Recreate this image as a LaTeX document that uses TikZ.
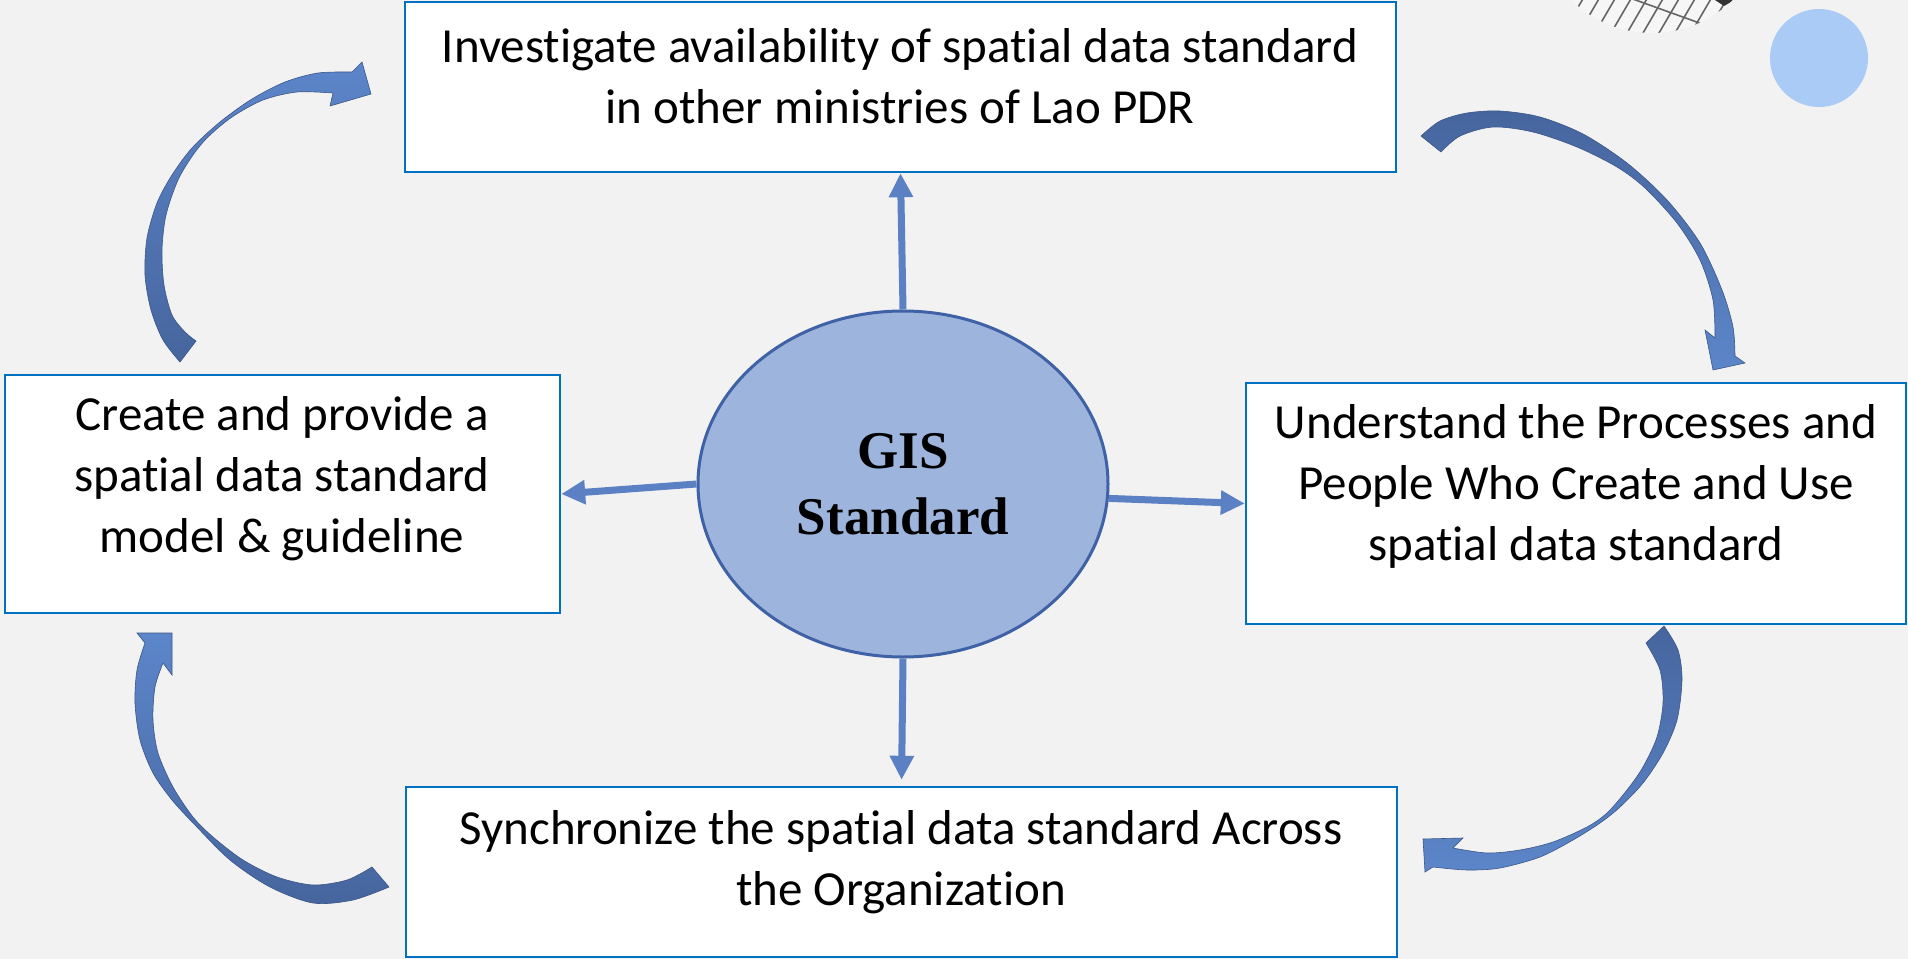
\documentclass[tikz,border=0pt]{standalone}
\usepackage{fontspec}
\setmainfont{Carlito}[Ligatures=NoCommon]
\newfontfamily\gisfont{Liberation Serif}
\usetikzlibrary{arrows.meta,shapes.geometric}
\definecolor{bg}{HTML}{F2F2F2}
\definecolor{boxline}{HTML}{0070C0}
\definecolor{connc}{HTML}{5B80C4}
\definecolor{ellfill}{HTML}{9DB4DD}
\definecolor{elldraw}{HTML}{3F62A6}
\definecolor{arrdark}{HTML}{46659E}
\definecolor{arrlight}{HTML}{5C86CA}
\definecolor{dotblue}{HTML}{ABCBF7}
\begin{document}
\begin{tikzpicture}[x=0.5pt,y=-0.5pt,
  box/.style={draw=boxline,line width=1.2pt,fill=white,rectangle,inner sep=0pt},
  txt/.style={align=center,font=\fontsize{24.5pt}{30.5pt}\selectfont,inner sep=0pt},
  link/.style={draw=connc,line width=3.5pt,-{Triangle[length=12pt,width=11.5pt]}},
  arcband/.style={draw=arrdark!85!black,line width=0.3pt},
  upshade/.style={top color=arrlight,bottom color=arrdark},
  downshade/.style={top color=arrdark,bottom color=arrlight},
]
\useasboundingbox (0,0) rectangle (1908,959);
\fill[bg] (0,0) rectangle (1908,959);

% decorations top right
\begin{scope}
\clip (1652,-82) circle[radius=57.5pt];
\fill[white!93!gray] (1520,-200) rectangle (1780,40);
\foreach \i in {0,...,12} \draw[black!60,line width=0.8pt] ({1556+16*\i},45) -- ({1584+16*\i},-3);
\draw[black!60,line width=0.8pt] (1630,-2) -- (1705,25);
\fill[black!80] (1712,-2) -- (1738,-2) -- (1724,6) -- cycle;
\end{scope}
\fill[dotblue] (1819,58) circle[radius=24.5pt];

% boxes
\node[box,minimum width=495.5pt,minimum height=85pt] (top) at (900.5,87) {};
\node[box,minimum width=277.5pt,minimum height=119pt] (left) at (282.5,494) {};
\node[box,minimum width=330pt,minimum height=120.5pt] (right) at (1576,503.5) {};
\node[box,minimum width=495.5pt,minimum height=85pt] (bottom) at (901.5,872) {};

\node[txt] (toptxt) at (900,76) {Investigate availability of spatial data standard\\in other ministries of Lao PDR};
\node[txt] (lefttxt) at (282,479) {Create and provide a\\spatial data standard\\model \& guideline};
\node[txt] (righttxt) at (1576,486) {Understand the Processes and\\People Who Create and Use\\spatial data standard};
\node[txt] (bottomtxt) at (901,862) {Synchronize the spatial data standard Across\\the Organization};

% centre
\node[ellipse,draw=elldraw,line width=1.5pt,fill=ellfill,minimum width=205pt,minimum height=173pt,inner sep=0pt,
  align=center,font=\gisfont\bfseries\fontsize{26.5pt}{33pt}\selectfont] (gis) at (903,484) {GIS\\Standard};

% connectors
\draw[link] (gis.north) -- (top.south);
\draw[link] (gis.west) -- (left.east);
\draw[link] (gis.-4) -- (right.west);
\draw[link,shorten >=3pt] (gis.south) -- (bottom.north);

% curved arrows
% top-left
\path[arcband,upshade] plot[smooth] coordinates {(180,362) (163,340) (151,310) (145,275) (147,238) (157,203) (172,175) (192,148) (220,122) (252,99) (285,82) (318,73) (352,72)}
  -- (362,62) -- (371,94) -- (330,106)
  -- plot[smooth] coordinates {(333,93) (297,92) (263,100) (232,117) (208,137) (193,155) (178,180) (166,215) (162,250) (164,285) (172,315) (185,332) (196,341)} -- cycle;
% top-right
\path[arcband,downshade] plot[smooth] coordinates {(1421,136) (1440,121) (1467,113) (1500,111) (1540,117) (1583,134) (1627,163) (1667,200) (1700,243) (1722,290) (1733,327) (1735,356)}
  -- (1745,363) -- (1713,370) -- (1705,330)
  -- plot[smooth] coordinates {(1715,338) (1713,300) (1700,260) (1677,223) (1645,188) (1617,167) (1577,147) (1533,132) (1493,127) (1460,136) (1441,152)} -- cycle;
% bottom-right
\path[arcband,downshade] plot[smooth] coordinates {(1664,626) (1678,650) (1682,680) (1677,720) (1663,753) (1643,783) (1620,807) (1600,823) (1573,840) (1540,857) (1500,868) (1467,870) (1433,867)}
  -- (1425,872) -- (1423,839) -- (1463,838)
  -- plot[smooth] coordinates {(1453,848) (1487,853) (1520,850) (1553,842) (1587,827) (1607,813) (1627,790) (1643,767) (1657,737) (1663,703) (1660,670) (1646,643)} -- cycle;
% bottom-left
\path[arcband,upshade] plot[smooth] coordinates {(372,867) (347,880) (313,885) (277,877) (243,860) (213,837) (193,817) (173,787) (158,753) (153,720) (155,687) (163,663)}
  -- (172,675) -- (172,633) -- (137,633)
  -- plot[smooth] coordinates {(145,643) (137,670) (135,703) (140,740) (153,773) (172,800) (195,825) (230,860) (270,887) (313,903) (353,900) (389,887)} -- cycle;
\end{tikzpicture}
\end{document}
